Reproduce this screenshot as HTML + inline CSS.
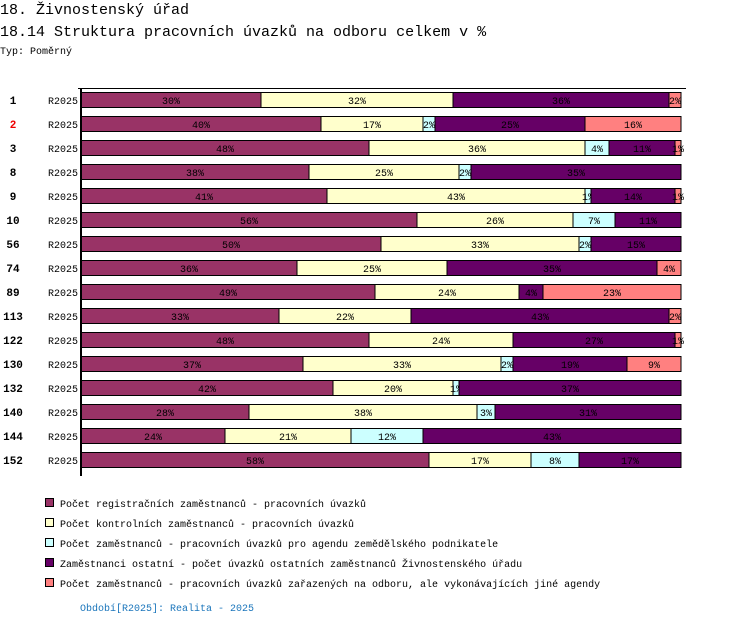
<!DOCTYPE html>
<html><head><meta charset="utf-8">
<style>
body{margin:0;background:#fff;width:750px;height:626px;overflow:hidden;font-family:"Liberation Mono",monospace;}
svg text{font-family:"Liberation Mono","DejaVu Sans Mono",monospace;}
</style></head>
<body>
<svg id="chart" width="750" height="626" xmlns="http://www.w3.org/2000/svg">
<text x="0" y="14" font-size="15">18. Živnostenský úřad</text>
<text x="0" y="36" font-size="15">18.14 Struktura pracovních úvazků na odboru celkem v %</text>
<text x="0" y="54" font-size="10">Typ: Poměrný</text>
<g id="bars"></g>
<line x1="78" y1="88.5" x2="686" y2="88.5" stroke="#000" stroke-width="1"/>
<line x1="81" y1="88" x2="81" y2="476" stroke="#000" stroke-width="2"/>
<g id="legend"></g>
<text x="80" y="611" font-size="10" fill="#1a75bb">Období[R2025]: Realita - 2025</text>
</svg>
<script>
const categories=["1","2","3","8","9","10","56","74","89","113","122","130","132","140","144","152"];
const s1=[30,40,48,38,41,56,50,36,49,33,48,37,42,28,24,58];
const s2=[32,17,36,25,43,26,33,25,24,22,24,33,20,38,21,17];
const s3=[0,2,4,2,1,7,2,0,0,0,0,2,1,3,12,8];
const s4=[36,25,11,35,14,11,15,35,4,43,27,19,37,31,43,17];
const s5=[2,16,1,0,1,0,0,4,23,2,1,9,0,0,0,0];
const seriesNames=["Počet registračních zaměstnanců - pracovních úvazků","Počet kontrolních zaměstnanců - pracovních úvazků","Počet zaměstnanců - pracovních úvazků pro agendu zemědělského podnikatele","Zaměstnanci ostatní - počet úvazků ostatních zaměstnanců Živnostenského úřadu","Počet zaměstnanců - pracovních úvazků zařazených na odboru, ale vykonávajících jiné agendy"];
const colors=["#993366","#ffffcc","#ccffff","#660066","#ff8080"];
const series=[s1,s2,s3,s4,s5];
const NS="http://www.w3.org/2000/svg";
const X0=81,W=600,Y0=92,PITCH=24,BH=16;
const xs=v=>X0+v/100*W;
const ys=i=>Y0+i*PITCH;
const g=document.getElementById('bars');
function mk(t,a){const e=document.createElementNS(NS,t);for(const k in a)e.setAttribute(k,a[k]);return e;}
categories.forEach((c,i)=>{
  const y=ys(i);
  const lab=mk('text',{x:13,y:y+12,'font-size':11,'font-weight':'bold','text-anchor':'middle',fill:c==="2"?"#e00":"#000"});
  lab.textContent=c;
  
  
  g.appendChild(lab);
  const per=mk('text',{x:78,y:y+12,'font-size':10,'text-anchor':'end'});
  per.textContent="R2025";
  
  
  g.appendChild(per);
  let tot=0;series.forEach(s=>tot+=s[i]);
  let acc=0;
  series.forEach((s,k)=>{
    const v=s[i];if(!v)return;
    const xa=xs(acc/tot*100),xb=xs((acc+v)/tot*100);acc+=v;
    const r=mk('rect',{x:xa,y:y+0.5,width:xb-xa,height:BH-1,fill:colors[k],stroke:"#000","stroke-width":1});
    
    
    g.appendChild(r);
    const t=mk('text',{x:(xa+xb)/2,y:y+12,'font-size':10,'text-anchor':'middle',fill:"#000"});
    t.textContent=v+"%";
    
    
    g.appendChild(t);
  });
});
const lg=document.getElementById('legend');
seriesNames.forEach((n,k)=>{
  const y=503+k*20;
  const r=mk('rect',{x:45.5,y:y-4.5,width:8,height:8,fill:colors[k],stroke:"#000","stroke-width":1});
  
  
  lg.appendChild(r);
  const t=mk('text',{x:60,y:y+4,'font-size':10});
  t.textContent=n;
  
  
  lg.appendChild(t);
});
</script>
</body></html>
